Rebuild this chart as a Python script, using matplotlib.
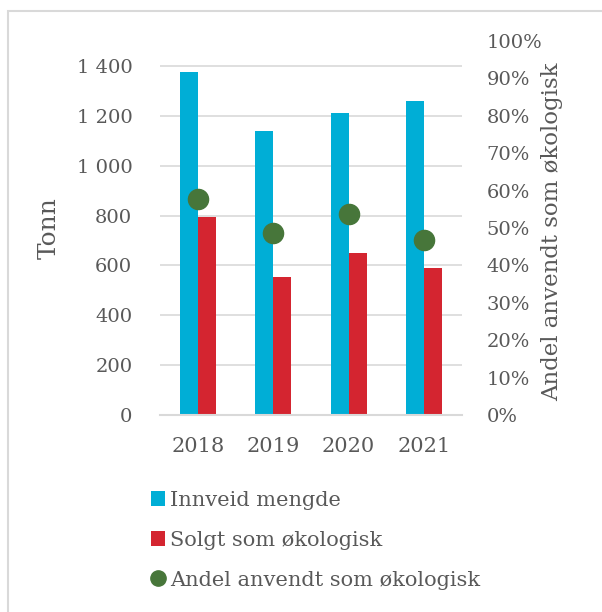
import matplotlib.pyplot as plt
import matplotlib.ticker as mticker
from matplotlib.patches import Rectangle
from matplotlib.lines import Line2D
import numpy as np

plt.rcParams['font.family'] = ['DejaVu Serif']

# data
years = ['2018', '2019', '2020', '2021']
innveid = [1375, 1140, 1210, 1260]
solgt = [795, 555, 650, 590]
andel = [0.578, 0.487, 0.537, 0.468]

blue = '#00AED6'
red = '#D42530'
green = '#47763A'
text_col = '#595959'
grid_col = '#D9D9D9'

fig = plt.figure(figsize=(6.02, 6.12), dpi=100)
ax = fig.add_axes([0.266, 0.322, 0.501, 0.611])
ax2 = ax.twinx()

x = np.arange(len(years))
w = 0.24
ax.bar(x - w / 2, innveid, w, color=blue, label='Innveid mengde', zorder=2)
ax.bar(x + w / 2, solgt, w, color=red, label='Solgt som økologisk', zorder=2)
ax2.plot(x, andel, linestyle='none', marker='o', markersize=14.5, color=green,
         label='Andel anvendt som økologisk')

ax.set_xlim(-0.5, len(years) - 0.5)
ax.set_ylim(0, 1500)
ax.set_yticks(range(0, 1401, 200))
ax.yaxis.set_major_formatter(mticker.FuncFormatter(lambda v, p: f'{int(v):,}'.replace(',', ' ')))
ax.set_xticks(x)
ax.set_xticklabels(years)
ax.grid(axis='y', color=grid_col, linewidth=1.2, zorder=0)
ax.set_axisbelow(True)

ax2.set_ylim(0, 1.0)
ax2.set_yticks(np.arange(0, 1.01, 0.1))
ax2.yaxis.set_major_formatter(mticker.FuncFormatter(lambda v, p: f'{v * 100:.0f}%'))

for a in (ax, ax2):
    for s in a.spines.values():
        s.set_visible(False)
    a.tick_params(length=0, colors=text_col, labelsize=14)
ax.spines['bottom'].set_visible(True)
ax.spines['bottom'].set_color(grid_col)
ax.spines['bottom'].set_linewidth(1.5)
ax.tick_params(axis='y', pad=20)
ax.tick_params(axis='x', pad=16, labelsize=15)
ax2.tick_params(axis='y', pad=18)

ax.set_ylabel('Tonn', color=text_col, fontsize=18)
ax.yaxis.set_label_coords(-0.33, 0.5)
ax2.set_ylabel('Andel anvendt som økologisk', color=text_col, fontsize=16.5, rotation=90)
ax2.yaxis.set_label_coords(1.262, 0.49)

h1, l1 = ax.get_legend_handles_labels()
dot = Line2D([], [], linestyle='none', marker='o', markersize=11, color=green)
leg = fig.legend(h1 + [dot], l1 + ['Andel anvendt som økologisk'], loc='upper left',
                 bbox_to_anchor=(0.233, 0.215),
                 frameon=False, fontsize=15, labelcolor=text_col, handlelength=0.7,
                 handleheight=0.7, handletextpad=0.25, labelspacing=1.0, borderpad=0)

# light frame around chart area
fig.patches.append(Rectangle((8 / 602, -0.1), 1.2, 1 - 11 / 612 + 0.1,
                             transform=fig.transFigure, fill=False,
                             edgecolor='#D9D9D9', linewidth=1.5))

fig.savefig('out.png', dpi=100)
